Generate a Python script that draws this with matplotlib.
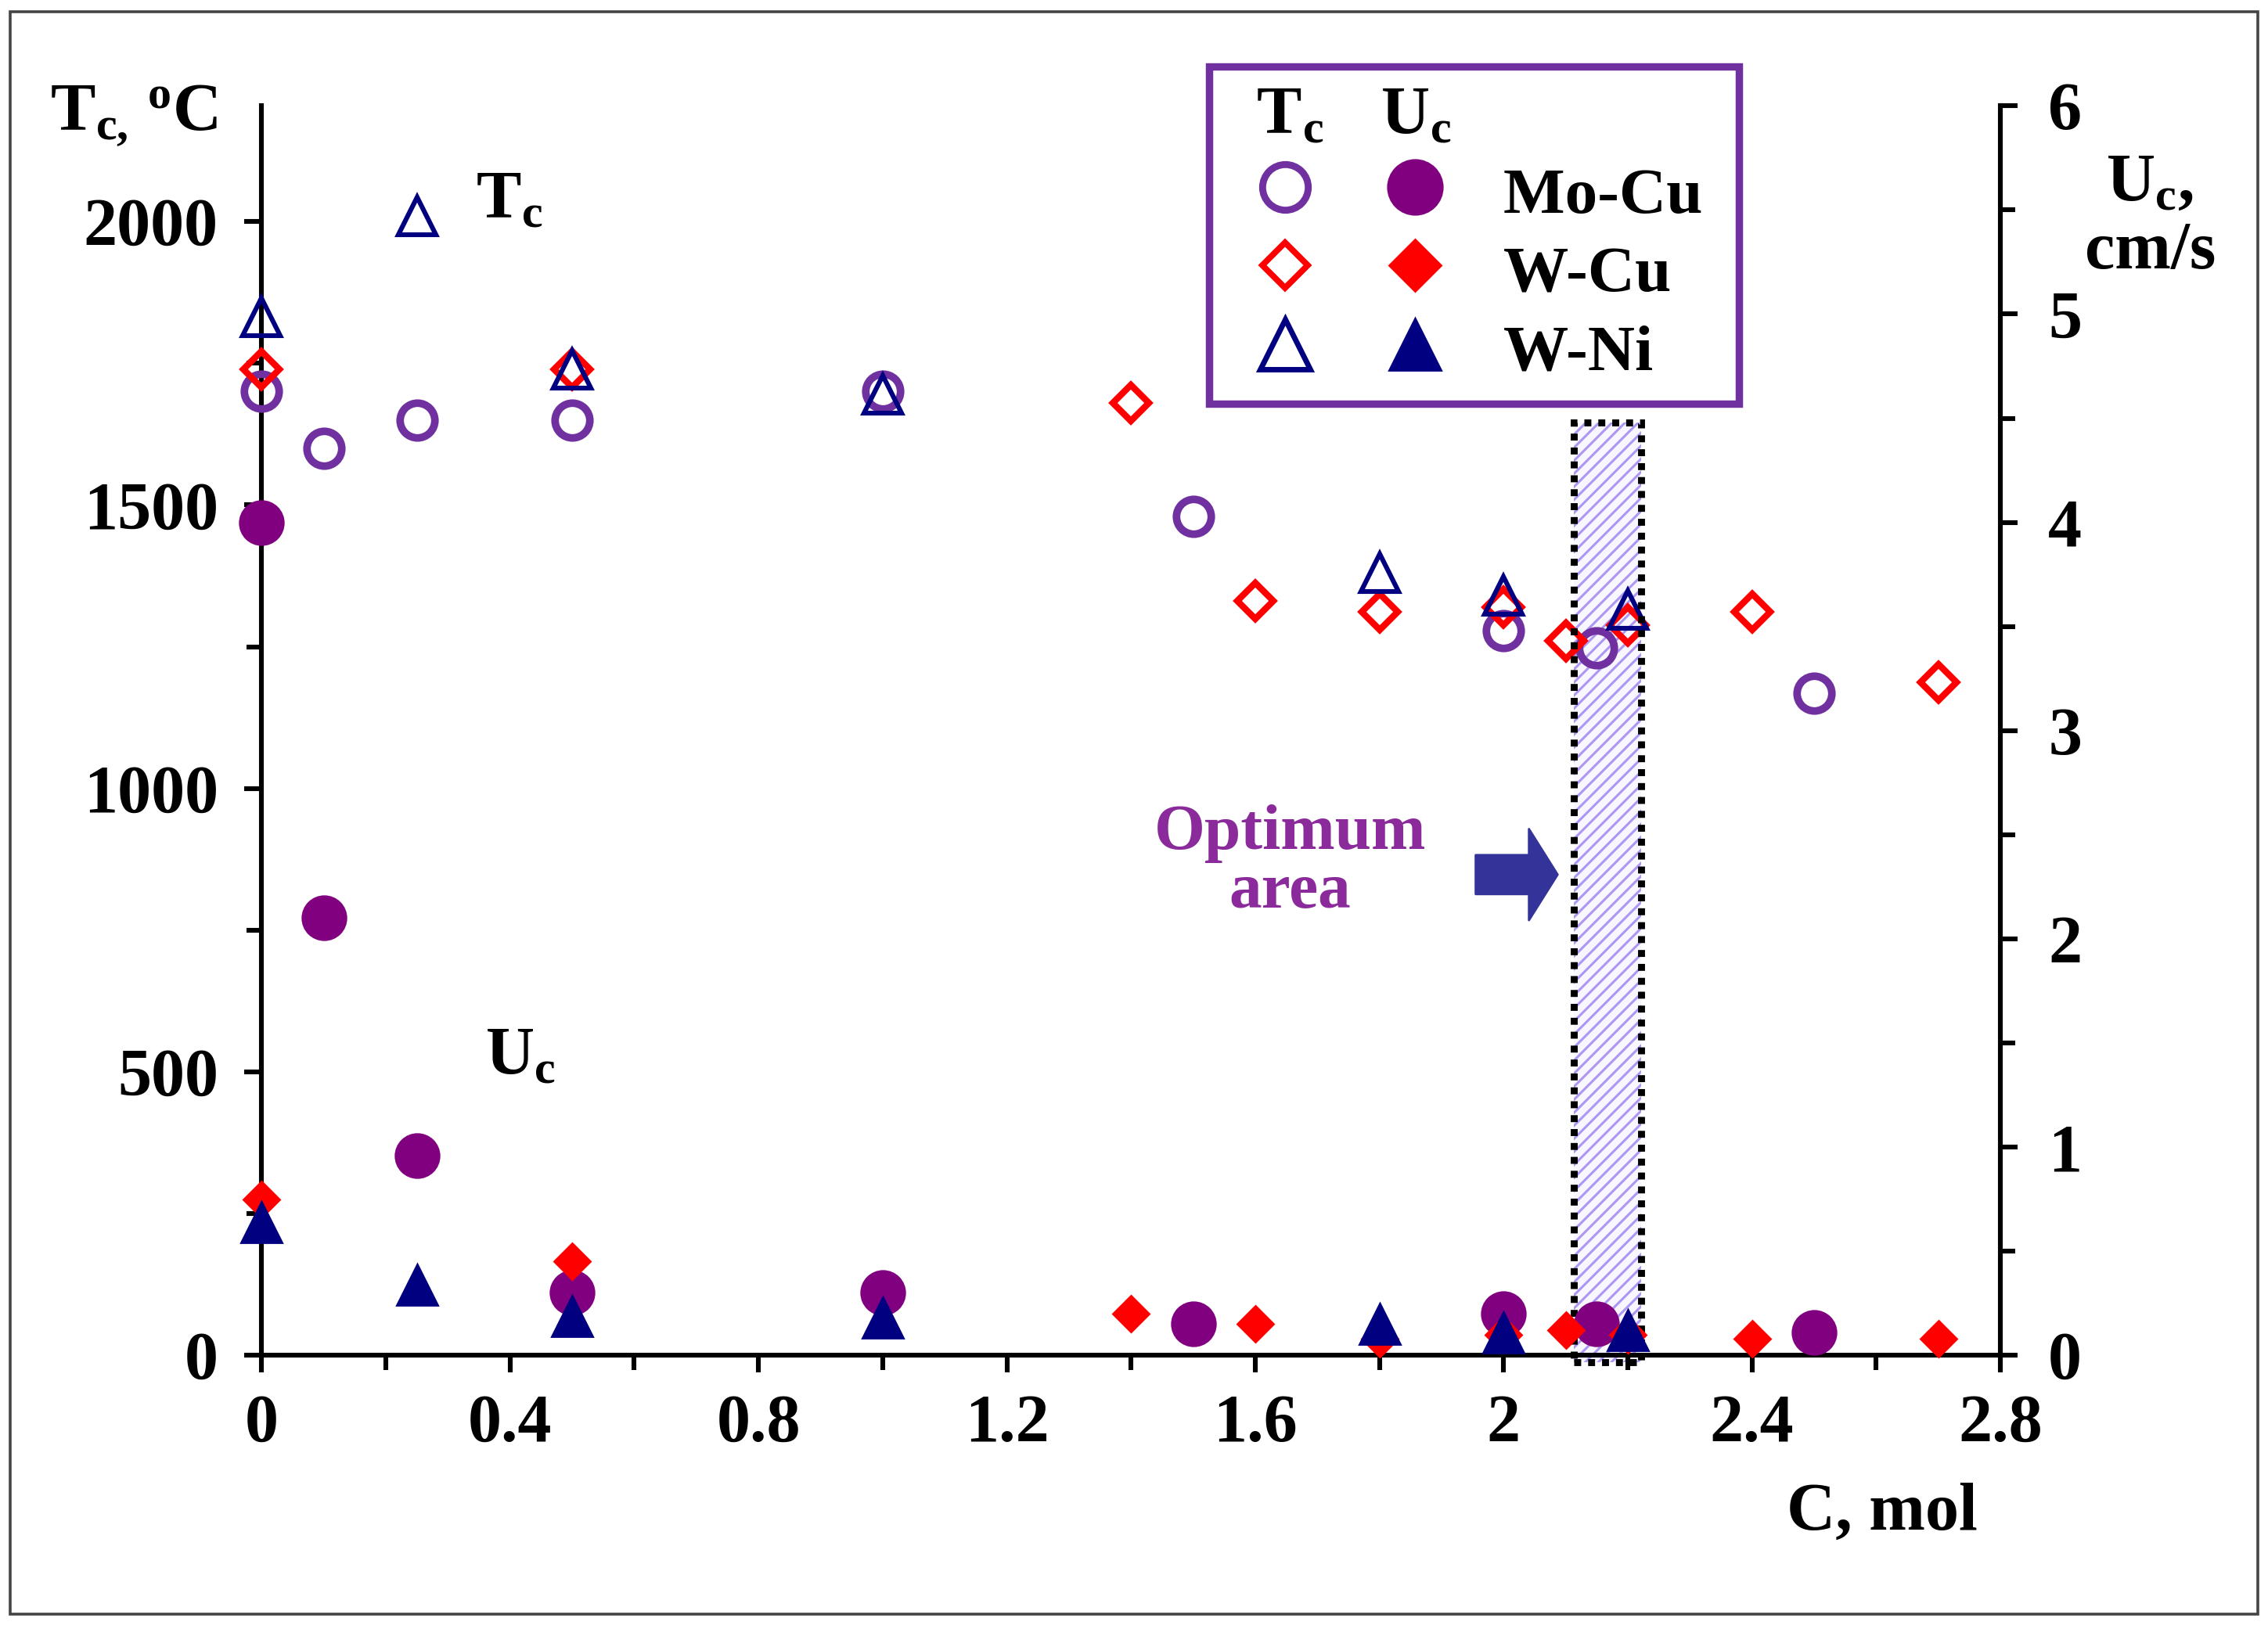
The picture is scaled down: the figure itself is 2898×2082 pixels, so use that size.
import matplotlib
matplotlib.use('Agg')
import matplotlib.pyplot as plt
from matplotlib.lines import Line2D
from matplotlib.patches import Rectangle
from matplotlib.legend_handler import HandlerTuple
from matplotlib.ticker import MultipleLocator

plt.rcParams['font.family'] = ['Liberation Serif', 'DejaVu Serif']
plt.rcParams['font.weight'] = 'bold'
plt.rcParams['mathtext.fontset'] = 'custom'
plt.rcParams['mathtext.rm'] = 'Liberation Serif:bold'
plt.rcParams['mathtext.it'] = 'Liberation Serif:bold'
plt.rcParams['mathtext.bf'] = 'Liberation Serif:bold'
plt.rcParams['hatch.linewidth'] = 1.1

# data (C in mol, Tc in deg C, Uc in cm/s)
c_mocu = [0, 0.1, 0.25, 0.5, 1.0, 1.5, 2.0, 2.15, 2.5]
tc_mocu = [1700, 1600, 1650, 1650, 1700, 1480, 1278, 1248, 1168]
uc_mocu = [4.0, 2.1, 0.96, 0.30, 0.30, 0.15, 0.20, 0.15, 0.11]

c_wcu = [0, 0.5, 1.4, 1.6, 1.8, 2.0, 2.1, 2.2, 2.4, 2.7]
tc_wcu = [1740, 1740, 1680, 1331, 1312, 1320, 1260, 1288, 1312, 1187]
uc_wcu = [0.75, 0.45, 0.20, 0.15, 0.08, 0.10, 0.12, 0.10, 0.08, 0.08]

c_wni = [0, 0.25, 0.5, 1.0, 1.8, 2.0, 2.2]
tc_wni = [1832, 2010, 1740, 1695, 1380, 1340, 1315]
uc_wni = [0.64, 0.34, 0.19, 0.18, 0.15, 0.11, 0.12]

# optimum concentration window and its drawn height (Tc axis)
opt_lo, opt_hi = 2.113, 2.222
opt_bottom, opt_top = -12, 1645

purple_open = '#7030A0'
purple_fill = '#800080'
red = '#FF0000'
navy = '#000080'
fs = 31

fig = plt.figure(figsize=(14.49, 10.41), dpi=200)
ax = fig.add_axes([0.1154, 0.168, 0.7666, 0.767])
ax2 = ax.twinx()

# optimum area
ax.add_patch(Rectangle((opt_lo, opt_bottom), opt_hi - opt_lo, opt_top - opt_bottom,
                       facecolor='#f8f6fe', edgecolor='#ad97f3', hatch='////',
                       linewidth=0, zorder=1, clip_on=False))
ax.add_patch(Rectangle((opt_lo, opt_bottom), opt_hi - opt_lo, opt_top - opt_bottom,
                       fill=False, edgecolor='black', linewidth=3.2,
                       linestyle=(0, (1, 1)), zorder=4, clip_on=False))

ax.plot(c_mocu, tc_mocu, 'o', ls='none', mfc='none', mec=purple_open, ms=16, mew=3.5,
        zorder=3, clip_on=False)
ax.plot(c_wcu, tc_wcu, 'D', ls='none', mfc='none', mec=red, ms=11.5, mew=3,
        zorder=3, clip_on=False)
ax.plot(c_wni, tc_wni, '^', ls='none', mfc='none', mec=navy, ms=17, mew=2.2,
        zorder=3, clip_on=False)

ax2.plot(c_mocu, uc_mocu, 'o', ls='none', color=purple_fill, ms=20, clip_on=False)
ax2.plot(c_wcu, uc_wcu, 'D', ls='none', color=red, ms=11.5, clip_on=False)
ax2.plot(c_wni, uc_wni, '^', ls='none', color=navy, ms=18.5, clip_on=False)

# axes limits and ticks
ax.set_xlim(0, 2.8)
ax.set_ylim(0, 2204)
ax2.set_ylim(0, 6)
ax.xaxis.set_major_locator(MultipleLocator(0.4))
ax.xaxis.set_minor_locator(MultipleLocator(0.2))
ax.yaxis.set_major_locator(MultipleLocator(500))
ax.yaxis.set_minor_locator(MultipleLocator(250))
ax2.yaxis.set_major_locator(MultipleLocator(1))
ax2.yaxis.set_minor_locator(MultipleLocator(0.5))
ax.set_xticks([0, 0.4, 0.8, 1.2, 1.6, 2.0, 2.4, 2.8])
ax.set_xticklabels(['0', '0.4', '0.8', '1.2', '1.6', '2', '2.4', '2.8'])

for a in (ax, ax2):
    a.spines['top'].set_visible(False)
    for s in a.spines.values():
        s.set_linewidth(2.2)
ax.spines['right'].set_visible(False)
ax2.spines['left'].set_visible(False)
ax2.spines['bottom'].set_visible(False)

ax.tick_params(axis='both', which='major', direction='out', length=8, width=2.2,
               labelsize=fs)
ax.tick_params(axis='both', which='minor', direction='out', length=7, width=2.2)
ax.tick_params(axis='x', which='major', pad=10)
ax.tick_params(axis='y', which='major', pad=12)
ax2.tick_params(axis='y', which='major', direction='out', length=8, width=2.2,
                labelsize=fs, pad=14)
ax2.tick_params(axis='y', which='minor', direction='out', length=7, width=2.2)
for lab in ax.get_xticklabels() + ax.get_yticklabels() + ax2.get_yticklabels():
    lab.set_fontweight('bold')

# axis titles
fig.text(0.022, 0.929, r'$\mathrm{T_{c,}\,{}^{o}C}$', fontsize=fs, ha='left', va='center')
fig.text(0.948, 0.887, r'$\mathrm{U_{c},}$', fontsize=fs, ha='center', va='center')
fig.text(0.948, 0.845, 'cm/s', fontsize=fs, ha='center', va='center')
fig.text(0.830, 0.071, 'C, mol', fontsize=fs, ha='center', va='center')

# in-plot labels
ax.text(0.345, 2035, r'$\mathrm{T_c}$', fontsize=fs, ha='left', va='center')
ax.text(0.36, 525, r'$\mathrm{U_c}$', fontsize=fs, ha='left', va='center')
ax.text(1.656, 869, 'Optimum\narea', fontsize=fs - 1, color='#8B2A9B',
        ha='center', va='center', linespacing=1.0, fontweight='bold')
ax.annotate('', xy=(2.087, 848), xytext=(1.955, 848),
            arrowprops=dict(arrowstyle='simple,head_length=0.33,head_width=1.05,tail_width=0.45',
                            color='#333399', mutation_scale=40, shrinkA=0, shrinkB=0),
            zorder=5)

# legend
h_mo = (Line2D([], [], marker='o', ls='none', mfc='none', mec=purple_open, ms=21, mew=3.2),
        Line2D([], [], marker='o', ls='none', color=purple_fill, ms=25))
h_wc = (Line2D([], [], marker='D', ls='none', mfc='none', mec=red, ms=15, mew=2.8),
        Line2D([], [], marker='D', ls='none', color=red, ms=17))
h_wn = (Line2D([], [], marker='^', ls='none', mfc='none', mec=navy, ms=23, mew=2.5),
        Line2D([], [], marker='^', ls='none', color=navy, ms=24))
leg = ax.legend([h_mo, h_wc, h_wn], ['Mo-Cu ', 'W-Cu ', 'W-Ni '],
                handler_map={tuple: HandlerTuple(ndivide=None, pad=0.27)},
                loc='upper left', bbox_to_anchor=(0.533, 0.959),
                bbox_transform=fig.transFigure, borderaxespad=0,
                fontsize=fs - 1, handlelength=3.73, handleheight=1.0,
                handletextpad=0.49, labelspacing=0.2, borderpad=0.3,
                fancybox=False, framealpha=1,
                title=r'$\mathrm{\enspace T_c\quad U_c}$',
                title_fontproperties={'size': fs, 'weight': 'bold'})
leg._legend_box.align = 'left'
leg.get_frame().set_edgecolor(purple_open)
leg.get_frame().set_linewidth(3.4)
for t in leg.get_texts():
    t.set_fontweight('bold')
leg.set_zorder(10)

# outer frame
fig.patches.append(Rectangle((0.0045, 0.009), 0.991, 0.984, transform=fig.transFigure,
                             fill=False, edgecolor='#444444', linewidth=1.3))

fig.savefig('out.png', dpi=200)
